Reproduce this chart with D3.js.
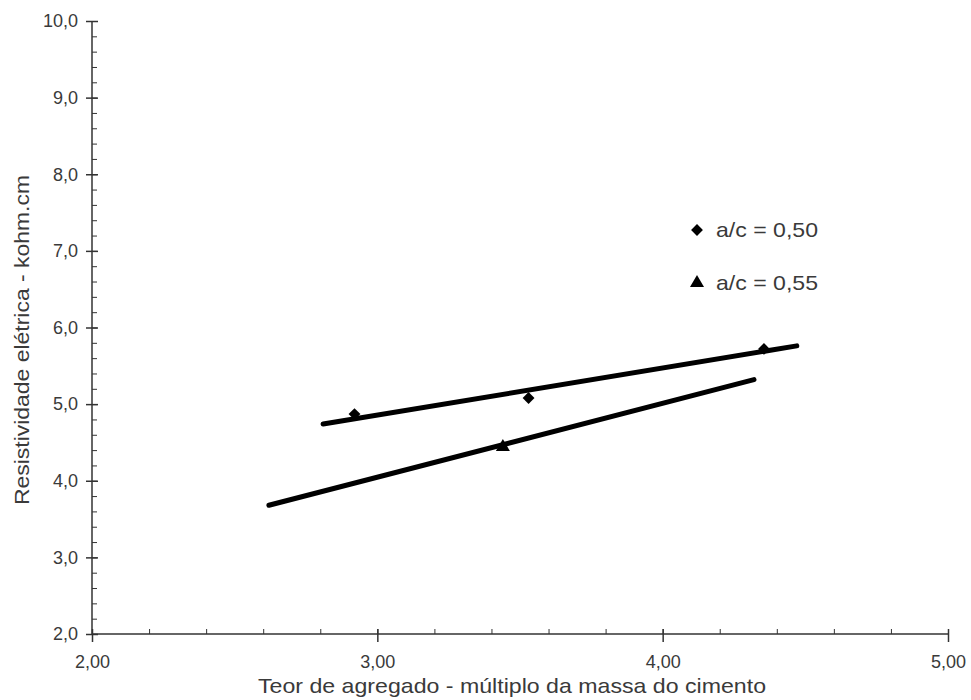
<!DOCTYPE html>
<html>
<head>
<meta charset="utf-8">
<script src="https://cdn.jsdelivr.net/npm/d3@7"></script>
<style>
  body { margin: 0; background: #fff; }
  text { font-family: "Liberation Sans", Arial, sans-serif; fill: #3a3a3a; }
</style>
</head>
<body>
<script>
// data
var xTicks = [2, 3, 4, 5];
var yTicks = [2, 3, 4, 5, 6, 7, 8, 9, 10];
var xMinor = d3.range(2, 5.001, 0.2);
var yMinor = d3.range(2, 10.001, 0.2);

// a/c = 0,50 (diamonds)
var teor050 = [2.92, 3.53, 4.355];
var resist050 = [4.87, 5.08, 5.72];
// a/c = 0,55 (triangles)
var teor055 = [3.44];
var resist055 = [4.44];

// trend lines (end points)
var fit050x = [2.81, 4.47];
var fit050y = [4.74, 5.76];
var fit055x = [2.62, 4.32];
var fit055y = [3.68, 5.32];

var legendLabels = ["a/c = 0,50", "a/c = 0,55"];

var width = 971, height = 700;
var svg = d3.select("body").append("svg")
    .attr("width", width)
    .attr("height", height);

var x = d3.scaleLinear().domain([2, 5]).range([92, 948]);
var y = d3.scaleLinear().domain([2, 10]).range([634, 21]);

var fmt1 = function(d) { return d3.format(".1f")(d).replace(".", ","); };
var fmt2 = function(d) { return d3.format(".2f")(d).replace(".", ","); };

// minor ticks (inside)
svg.append("g")
    .attr("transform", "translate(" + x(2) + ",0)")
    .call(d3.axisRight(y).tickValues(yMinor).tickSize(5).tickFormat(""))
    .call(function(g) { g.select(".domain").remove(); })
    .selectAll("line").attr("stroke", "#333");

svg.append("g")
    .attr("transform", "translate(0," + y(2) + ")")
    .call(d3.axisTop(x).tickValues(xMinor).tickSize(5).tickFormat(""))
    .call(function(g) { g.select(".domain").remove(); })
    .selectAll("line").attr("stroke", "#333");

// y axis
var yAxis = svg.append("g")
    .attr("transform", "translate(" + x(2) + ",0)")
    .call(d3.axisLeft(y).tickValues(yTicks).tickSize(6).tickPadding(8).tickFormat(fmt1));
yAxis.select(".domain").attr("stroke", "#333").attr("stroke-width", 1.5)
    .attr("d", "M0," + y(10) + "V" + y(2));
yAxis.selectAll("line").attr("x1", 6).attr("stroke", "#333").attr("stroke-width", 1.5);
yAxis.selectAll("text").style("font-size", "18px").attr("fill", "#3a3a3a")
    .style("font-family", "Liberation Sans, Arial, sans-serif");

// x axis
var xAxis = svg.append("g")
    .attr("transform", "translate(0," + y(2) + ")")
    .call(d3.axisBottom(x).tickValues(xTicks).tickSize(8).tickPadding(13).tickFormat(fmt2));
xAxis.select(".domain").attr("stroke", "#333").attr("stroke-width", 1.5)
    .attr("d", "M" + x(2) + ",0H" + x(5));
xAxis.selectAll("line").attr("y1", -5).attr("stroke", "#333").attr("stroke-width", 1.5);
xAxis.selectAll("text").style("font-size", "18px").attr("fill", "#3a3a3a")
    .style("font-family", "Liberation Sans, Arial, sans-serif");

// axis titles
svg.append("text")
    .attr("x", 512).attr("y", 693)
    .attr("text-anchor", "middle")
    .attr("textLength", 508).attr("lengthAdjust", "spacingAndGlyphs")
    .style("font-size", "21px")
    .text("Teor de agregado - múltiplo da massa do cimento");

svg.append("text")
    .attr("transform", "translate(29,340) rotate(-90)")
    .attr("text-anchor", "middle")
    .attr("textLength", 330).attr("lengthAdjust", "spacingAndGlyphs")
    .style("font-size", "21px")
    .text("Resistividade elétrica - kohm.cm");

// markers
var diamond = d3.symbol().type(d3.symbolSquare).size(70);
var triangle = d3.symbol().type(d3.symbolTriangle).size(85);

svg.selectAll("path.d050")
    .data(teor050)
    .enter().append("path")
    .attr("class", "d050")
    .attr("d", diamond)
    .attr("transform", function(d, i) { return "translate(" + x(d) + "," + y(resist050[i]) + ") rotate(45)"; })
    .attr("fill", "#000");

svg.selectAll("path.t055")
    .data(teor055)
    .enter().append("path")
    .attr("class", "t055")
    .attr("d", triangle)
    .attr("transform", function(d, i) { return "translate(" + x(d) + "," + y(resist055[i]) + ")"; })
    .attr("fill", "#000");

// trend lines
var line = d3.line().x(function(d) { return x(d[0]); }).y(function(d) { return y(d[1]); });

svg.append("path")
    .datum(d3.zip(fit050x, fit050y))
    .attr("d", line)
    .attr("stroke", "#000").attr("stroke-width", 5).attr("stroke-linecap", "round")
    .attr("fill", "none");

svg.append("path")
    .datum(d3.zip(fit055x, fit055y))
    .attr("d", line)
    .attr("stroke", "#000").attr("stroke-width", 5).attr("stroke-linecap", "round")
    .attr("fill", "none");

// legend
var legend = svg.append("g").attr("transform", "translate(697,230)");
legend.append("path").attr("d", diamond).attr("transform", "rotate(45)").attr("fill", "#000");
legend.append("path").attr("d", triangle).attr("transform", "translate(0,53)").attr("fill", "#000");
legend.selectAll("text")
    .data(legendLabels)
    .enter().append("text")
    .attr("x", 19)
    .attr("y", function(d, i) { return i * 53; })
    .attr("dy", "0.35em")
    .attr("textLength", 102).attr("lengthAdjust", "spacingAndGlyphs")
    .style("font-size", "21px")
    .text(function(d) { return d; });
</script>
</body>
</html>
